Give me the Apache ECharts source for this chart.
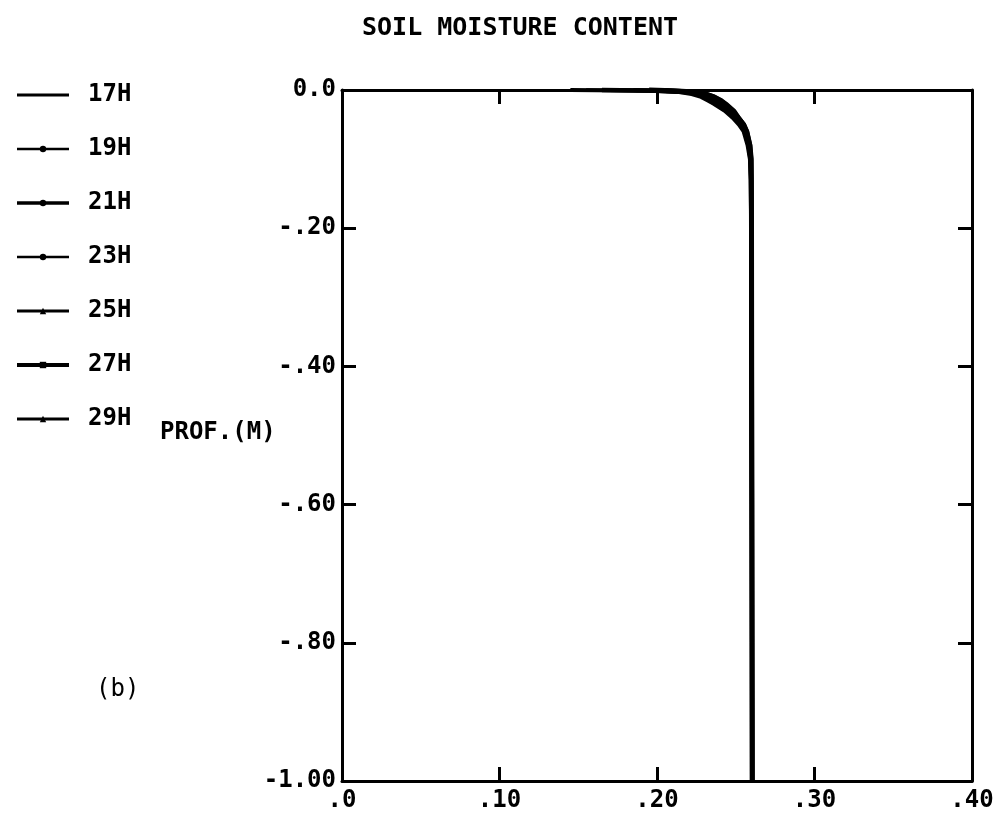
<!DOCTYPE html>
<html>
<head>
<meta charset="utf-8">
<script src="https://cdn.jsdelivr.net/npm/echarts@6/dist/echarts.min.js"></script>
<style>
html,body{margin:0;padding:0;background:#fff;}
#chart{width:998px;height:813px;}
</style>
</head>
<body>
<div id="chart"></div>
<script>
// ---- data ----
const seriesNames = ['17H', '19H', '21H', '23H', '25H', '27H', '29H'];
const depths = [0, -0.001, -0.003, -0.006, -0.01, -0.015, -0.02, -0.03, -0.04, -0.05, -0.06, -0.08, -0.1, -0.13, -0.2, -0.4, -0.6, -0.8, -1.0];
const m17 = [0.145, 0.195, 0.214, 0.222, 0.228, 0.232, 0.236, 0.243, 0.248, 0.252, 0.2550, 0.2575, 0.2590, 0.2595, 0.2598, 0.2600, 0.2601, 0.2602, 0.2603];
const m19 = [0.155, 0.198, 0.216, 0.224, 0.230, 0.234, 0.238, 0.244, 0.249, 0.253, 0.2555, 0.2580, 0.2592, 0.2596, 0.2598, 0.2600, 0.2601, 0.2602, 0.2603];
const m21 = [0.165, 0.201, 0.218, 0.226, 0.231, 0.236, 0.239, 0.245, 0.250, 0.2535, 0.2560, 0.2582, 0.2594, 0.2597, 0.2599, 0.2600, 0.2602, 0.2603, 0.2604];
const m23 = [0.175, 0.204, 0.220, 0.227, 0.233, 0.237, 0.241, 0.246, 0.2505, 0.254, 0.2563, 0.2585, 0.2596, 0.2598, 0.2599, 0.2601, 0.2602, 0.2603, 0.2604];
const m25 = [0.185, 0.207, 0.222, 0.229, 0.234, 0.239, 0.242, 0.247, 0.251, 0.2545, 0.2566, 0.2588, 0.2597, 0.2598, 0.2600, 0.2601, 0.2602, 0.2603, 0.2605];
const m27 = [0.195, 0.210, 0.224, 0.231, 0.236, 0.240, 0.243, 0.248, 0.2515, 0.255, 0.2570, 0.2590, 0.2598, 0.2599, 0.2600, 0.2601, 0.2603, 0.2604, 0.2605];
const m29 = [0.205, 0.213, 0.226, 0.232, 0.237, 0.241, 0.244, 0.249, 0.252, 0.2553, 0.2572, 0.2592, 0.2599, 0.2600, 0.2601, 0.2602, 0.2603, 0.2604, 0.2605];
const moistureSets = [m17, m19, m21, m23, m25, m27, m29];
const xTickValues = [0, 0.1, 0.2, 0.3, 0.4];
const xTickLabels = ['.0', '.10', '.20', '.30', '.40'];
const yTickValues = [0, -0.2, -0.4, -0.6, -0.8, -1.0];
const yTickLabels = ['0.0', '-.20', '-.40', '-.60', '-.80', '-1.00'];

// ---- styling ----
const FONT = 'DejaVu Sans Mono';
const symbols = ['circle', 'circle', 'circle', 'circle', 'triangle', 'rect', 'triangle'];
const widths = [3, 2.5, 3.5, 2.5, 3, 4, 3];

function lookup(vals, labels, v) {
  for (let i = 0; i < vals.length; i++) if (Math.abs(vals[i] - v) < 1e-6) return labels[i];
  return '';
}

const series = seriesNames.map((name, i) => ({
  name: name,
  type: 'line',
  xAxisIndex: 0,
  yAxisIndex: 0,
  data: depths.map((d, k) => [moistureSets[i][k], d]),
  showSymbol: false,
  symbol: symbols[i],
  symbolSize: 5,
  clip: false,
  color: '#000',
  lineStyle: { color: '#000', width: widths[i] + 1 },
  itemStyle: { color: '#000' },
  emphasis: { disabled: true },
  animation: false
}));

const axisLine = { show: true, onZero: false, lineStyle: { color: '#000', width: 3 } };
const axisTick = { show: true, inside: true, length: 14, lineStyle: { color: '#000', width: 3 } };

const chart = echarts.init(document.getElementById('chart'), null, { renderer: 'canvas' });
chart.setOption({
  backgroundColor: '#fff',
  animation: false,
  title: {
    text: 'SOIL MOISTURE CONTENT',
    left: 357, top: 11,
    textStyle: { fontFamily: FONT, fontWeight: 'bold', fontSize: 25, color: '#000' }
  },
  legend: {
    orient: 'vertical',
    left: 10, top: 78,
    itemWidth: 52, itemHeight: 8,
    itemGap: 30,
    selectedMode: false,
    data: seriesNames.map((n, i) => ({
      name: n,
      lineStyle: { width: widths[i], color: '#000' },
      itemStyle: i === 0 ? { opacity: 0 } : { color: '#000' }
    })),
    textStyle: { fontFamily: FONT, fontWeight: 'bold', fontSize: 24, color: '#000', padding: [0, 0, 0, 14], lineHeight: 24 }
  },
  grid: { left: 342, right: 26, top: 90, bottom: 32, containLabel: false },
  xAxis: [{
    type: 'value', position: 'bottom', min: 0, max: 0.4, interval: 0.1,
    axisLine: axisLine, axisTick: axisTick, splitLine: { show: false },
    axisLabel: {
      margin: 8, fontFamily: FONT, fontWeight: 'bold', fontSize: 24, color: '#000',
      formatter: v => lookup(xTickValues, xTickLabels, v)
    }
  }, {
    type: 'value', position: 'top', min: 0, max: 0.4, interval: 0.1,
    axisLine: axisLine, axisTick: axisTick, splitLine: { show: false },
    axisLabel: { show: false }
  }],
  yAxis: [{
    type: 'value', position: 'left', min: -1, max: 0, interval: 0.2,
    axisLine: axisLine, axisTick: axisTick, splitLine: { show: false },
    axisLabel: {
      margin: 6, fontFamily: FONT, fontWeight: 'bold', fontSize: 24, color: '#000',
      formatter: v => lookup(yTickValues, yTickLabels, v)
    }
  }, {
    type: 'value', position: 'right', min: -1, max: 0, interval: 0.2,
    axisLine: axisLine, axisTick: axisTick, splitLine: { show: false },
    axisLabel: { show: false }
  }],
  graphic: [
    { type: 'text', left: 160, top: 421,
      style: { text: 'PROF.(M)', fontFamily: FONT, fontWeight: 'bold', fontSize: 24, fill: '#000' } },
    { type: 'text', left: 96, top: 678,
      style: { text: '(b)', fontFamily: FONT, fontWeight: 'normal', fontSize: 24, fill: '#000' } }
  ],
  series: series
});
</script>
</body>
</html>
